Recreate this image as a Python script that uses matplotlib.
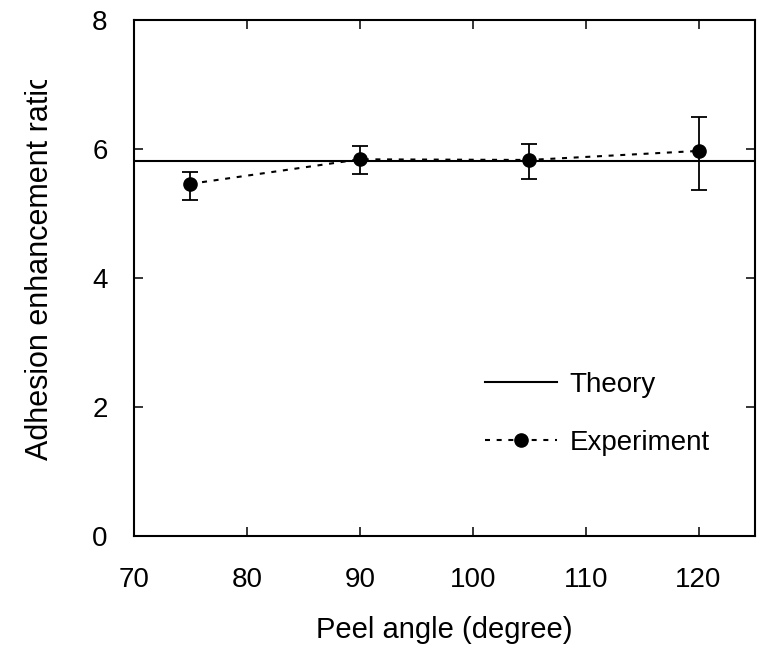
import numpy as np
import matplotlib
matplotlib.use('Agg')
import matplotlib.pyplot as plt
from matplotlib.transforms import Bbox

plt.rcParams['font.family'] = ['Liberation Sans', 'DejaVu Sans']

# data
peel_angle = [75, 90, 105, 120]
ratio_exp = [5.46, 5.84, 5.83, 5.97]
err_low = [0.25, 0.22, 0.30, 0.61]
err_high = [0.19, 0.20, 0.24, 0.53]
theory_ratio = 5.82

fig = plt.figure(figsize=(7.66, 6.49), dpi=100)
ax = fig.add_axes([0.175, 0.1741, 0.8106, 0.7951])

ax.axhline(theory_ratio, color='black', lw=1.5, label='Theory')
ax.errorbar(peel_angle, ratio_exp, yerr=[err_low, err_high], fmt='none', ecolor='black',
            capsize=5.5, capthick=1.3, elinewidth=1.3)
ax.plot(peel_angle, ratio_exp, color='black', marker='o', ms=9.5, lw=1.5,
        ls=(0, (2.4, 3.2)), label='Experiment')

ax.set_xlim(70, 125)
ax.set_ylim(0, 8)
ax.set_xticks([70, 80, 90, 100, 110, 120])
ax.set_yticks([0, 2, 4, 6, 8])

for s in ax.spines.values():
    s.set_linewidth(1.5)
ax.tick_params(direction='in', top=True, right=True, length=6.5, width=1.1,
               labelsize=20)
ax.tick_params(axis='x', pad=22)
ax.tick_params(axis='y', pad=19)

ax.set_xlabel('Peel angle (degree)', fontsize=21, labelpad=17)
ylab = ax.set_ylabel('Adhesion enhancement ratio', fontsize=22)
ax.yaxis.set_label_coords(-0.127, 0.523)

# the reference crops the end of the y label
ylab.set_clip_box(Bbox.from_extents(0, 0, 766, 649 - 80))
ylab.set_clip_on(True)

leg = ax.legend(loc='upper left', bbox_to_anchor=(0.565, 0.318), frameon=False,
                fontsize=20, handlelength=2.6, handletextpad=0.45, labelspacing=1.15,
                borderpad=0, borderaxespad=0, numpoints=1)

fig.savefig('out.png', dpi=100)
